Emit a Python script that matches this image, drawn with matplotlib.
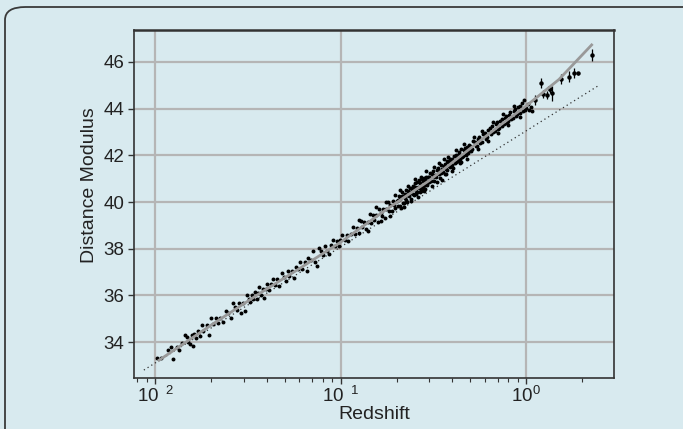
import numpy as np
import matplotlib.pyplot as plt
from matplotlib.patches import FancyBboxPatch

plt.rcParams['font.family'] = ['Liberation Sans', 'DejaVu Sans']
plt.rcParams['mathtext.fontset'] = 'custom'
plt.rcParams['mathtext.rm'] = 'Liberation Sans'

# low redshift supernovae
z_low = [0.0103, 0.0107, 0.0118, 0.0122, 0.0125, 0.0131, 0.0135, 0.0139, 0.0145, 0.0148,
         0.0151, 0.0155, 0.0158, 0.0160, 0.0163, 0.0166, 0.0170, 0.0175, 0.0178, 0.0182,
         0.0190, 0.0195, 0.0200, 0.0205, 0.0212, 0.0218, 0.0225, 0.0232, 0.0240, 0.0248,
         0.0255, 0.0262, 0.0270, 0.0276, 0.0283, 0.0290, 0.0298, 0.0305, 0.0312, 0.0320,
         0.0326, 0.0332, 0.0338, 0.0345, 0.0352, 0.0358, 0.0365, 0.0372, 0.0380, 0.0388,
         0.0395, 0.0402]
mu_low = [33.33, 33.31, 33.67, 33.80, 33.28, 33.80, 33.67, 33.98, 34.32, 34.22,
          33.99, 33.92, 34.31, 33.84, 34.33, 34.17, 34.49, 34.24, 34.72, 34.47,
          34.72, 34.32, 35.03, 34.78, 35.01, 34.82, 35.04, 34.86, 35.33, 35.25,
          35.01, 35.67, 35.49, 35.39, 35.69, 35.25, 35.66, 35.31, 36.01, 35.86,
          35.71, 36.00, 35.84, 36.13, 35.83, 36.09, 36.36, 36.00, 36.29, 35.89,
          36.28, 36.47]

z_mid = [0.0410, 0.0420, 0.0432, 0.0445, 0.0455, 0.0468, 0.0480, 0.0492, 0.0505, 0.0518,
         0.0530, 0.0545, 0.0560, 0.0575, 0.0590, 0.0605, 0.0620, 0.0640, 0.0655, 0.0670,
         0.0690, 0.0710, 0.0728, 0.0745, 0.0765, 0.0785, 0.0800, 0.0820, 0.0840, 0.0865,
         0.0885, 0.0905, 0.0930, 0.0950, 0.0975, 0.0995,
         0.102, 0.105, 0.108, 0.110, 0.113, 0.116, 0.119, 0.122, 0.125, 0.128,
         0.131, 0.134, 0.137, 0.140, 0.143, 0.146, 0.149, 0.152, 0.155, 0.158,
         0.161, 0.164, 0.167, 0.170, 0.173, 0.176, 0.179, 0.182, 0.185, 0.188,
         0.191, 0.194, 0.197, 0.200]
mu_mid = [36.21, 36.47, 36.68, 36.44, 36.69, 36.41, 36.96, 36.77, 36.63, 37.03,
          36.84, 37.05, 36.76, 37.22, 37.12, 37.43, 37.14, 37.41, 37.06, 37.61,
          37.53, 37.89, 37.45, 37.25, 38.01, 37.92, 37.71, 38.12, 37.92, 37.79,
          38.14, 38.39, 38.10, 38.35, 38.11, 38.36,
          38.57, 38.38, 38.60, 38.34, 38.65, 38.91, 38.62, 38.88, 38.69, 39.19,
          38.94, 39.15, 38.85, 39.15, 39.50, 39.10, 39.44, 39.24, 39.44, 39.13,
          39.68, 39.52, 39.41, 39.71, 39.30, 39.69, 39.98, 39.62, 39.86, 39.60,
          40.03, 39.87, 39.76, 40.05]

z_dense = [0.203, 0.204, 0.206, 0.208, 0.209, 0.211, 0.213, 0.214, 0.216, 0.218,
           0.219, 0.221, 0.223, 0.224, 0.226, 0.228, 0.229, 0.231, 0.233, 0.234,
           0.236, 0.238, 0.239, 0.241, 0.243, 0.244, 0.246, 0.248, 0.249, 0.251,
           0.253, 0.254, 0.256, 0.258, 0.259, 0.261, 0.263, 0.264, 0.266, 0.268,
           0.269, 0.271, 0.273, 0.274, 0.276, 0.278, 0.279, 0.281, 0.283, 0.284,
           0.286, 0.288, 0.289, 0.291, 0.293, 0.294, 0.296, 0.298, 0.299, 0.302,
           0.306, 0.309, 0.313, 0.316, 0.319, 0.323, 0.326, 0.329, 0.333, 0.336,
           0.339, 0.343, 0.346, 0.349, 0.353, 0.356, 0.359, 0.363, 0.366, 0.369,
           0.373, 0.376, 0.379, 0.383, 0.386, 0.389, 0.393, 0.396, 0.399, 0.403,
           0.407, 0.412, 0.416, 0.419, 0.423, 0.427, 0.432, 0.436, 0.439, 0.443,
           0.447, 0.452, 0.457, 0.462, 0.467, 0.472, 0.476, 0.479, 0.483, 0.487,
           0.492, 0.497, 0.503, 0.512, 0.518, 0.527, 0.533, 0.542, 0.548, 0.556,
           0.563, 0.576, 0.584, 0.596, 0.604, 0.616, 0.624, 0.636, 0.644, 0.656,
           0.664, 0.676, 0.684, 0.696, 0.704, 0.716, 0.724, 0.736, 0.744, 0.756,
           0.764, 0.776, 0.784, 0.795, 0.805, 0.820, 0.830, 0.845, 0.855, 0.870,
           0.880, 0.895, 0.905, 0.920, 0.930, 0.945, 0.955, 0.970, 0.980, 0.995,
           1.02, 1.04, 1.06, 1.08]
mu_dense = [40.10, 39.85, 40.26, 39.83, 40.11, 39.76, 40.24, 40.44, 39.97, 40.26,
            39.96, 40.33, 40.18, 40.51, 40.08, 40.30, 40.02, 40.48, 40.24, 40.42,
            40.62, 40.37, 40.13, 40.59, 40.56, 40.36, 40.69, 40.31, 40.54, 40.81,
            40.66, 40.46, 40.36, 40.84, 40.41, 40.64, 40.58, 40.93, 40.45, 40.80,
            40.60, 40.46, 40.98, 40.55, 40.71, 40.65, 40.89, 41.04, 40.94, 40.74,
            40.56, 41.06, 40.76, 40.91, 40.72, 41.05, 40.85, 41.07, 40.87, 41.23,
            40.91, 41.21, 41.08, 41.31, 40.89, 41.16, 41.05, 41.37, 41.44, 41.39,
            41.19, 41.01, 41.59, 41.24, 41.40, 41.29, 41.56, 41.21, 41.61, 41.41,
            41.76, 41.38, 41.71, 41.54, 41.86, 41.52, 41.70, 41.57, 41.84, 41.47,
            41.95, 41.68, 41.70, 42.00, 41.87, 41.76, 42.13, 42.07, 41.85, 41.72,
            42.26, 41.93, 41.95, 42.22, 42.30, 42.02, 42.06, 42.36, 42.23, 42.12,
            42.44, 42.42, 42.20, 42.26, 42.63, 42.58, 42.38, 42.42, 42.72, 42.79,
            42.51, 42.59, 42.90, 42.96, 42.71, 42.79, 43.09, 43.18, 42.90, 43.27,
            42.99, 43.05, 43.33, 43.42, 43.12, 43.16, 43.46, 43.54, 43.25, 43.33,
            43.62, 43.70, 43.40, 43.46, 43.74, 43.84, 43.55, 43.62, 43.92, 43.99,
            43.70, 43.76, 44.06, 44.12, 43.83, 44.25, 43.90, 44.38, 43.95, 44.02,
            44.20, 43.95, 44.08, 43.88]

# outlying points at the edge of the band
z_edge = [0.125, 0.14, 0.155, 0.165, 0.175, 0.185, 0.195, 0.21, 0.22, 0.23,
          0.24, 0.25, 0.26, 0.27, 0.28, 0.29, 0.31, 0.32, 0.33, 0.34,
          0.35, 0.36, 0.37, 0.38, 0.40, 0.42, 0.44, 0.46, 0.48, 0.52,
          0.55, 0.58, 0.62, 0.66, 0.70, 0.75, 0.80, 0.86, 0.92]
mu_edge = [39.24, 38.75, 39.79, 39.19, 39.98, 39.41, 40.29, 40.51, 39.80, 40.70,
           40.06, 40.97, 40.23, 41.08, 40.47, 41.31, 40.68, 41.51, 40.87, 41.65,
           40.94, 41.83, 41.19, 41.91, 41.34, 42.22, 41.65, 42.47, 41.83, 42.79,
           42.26, 43.06, 42.61, 43.44, 42.94, 43.76, 43.28, 44.12, 43.63]

# high redshift supernovae with error bars
z_high = [1.115, 1.207, 1.23, 1.30, 1.33, 1.35, 1.38, 1.53, 1.69, 1.80, 1.91, 2.25]
mu_high = [44.37, 45.09, 44.63, 44.59, 44.87, 44.83, 44.66, 45.26, 45.37, 45.54, 45.52, 46.30]
err_high = [0.20, 0.21, 0.18, 0.18, 0.12, 0.15, 0.32, 0.21, 0.24, 0.21, 0.07, 0.25]

# best-fit model and empty (coasting) universe
model_z = [0.0105, 0.02, 0.0367, 0.06, 0.1, 0.18, 0.3, 0.5, 0.72, 1.0, 1.5, 2.25]
model_mu = [33.22, 34.72, 36.09, 37.15, 38.28, 39.73, 40.92, 42.30, 43.28, 44.12, 45.25, 46.73]
empty_z = [0.0087, 2.43]
empty_mu = [32.8, 44.97]

bg = '#d8eaef'
fig = plt.figure(figsize=(6.83, 4.29), dpi=100, facecolor=bg)
ax = fig.add_axes([0.1962, 0.1189, 0.7028, 0.8112])
ax.set_facecolor(bg)

# outer rounded frame, cut by the right and bottom edges
frame = FancyBboxPatch((5 / 683, -0.2), 1.2, 0.2 + 422 / 429,
                       boxstyle='round,pad=0,rounding_size=0.03',
                       transform=fig.transFigure, facecolor='none',
                       edgecolor='#3a3a3a', linewidth=1.3, zorder=-10)
fig.patches.append(frame)

ax.plot(empty_z, empty_mu, color='#333333', linestyle=(0, (1, 2.5)), linewidth=0.9, zorder=2)
ax.scatter(z_low + z_mid + z_dense + z_edge, mu_low + mu_mid + mu_dense + mu_edge,
           s=8, marker='o', color='black', linewidths=0, zorder=3)
ax.errorbar(z_high, mu_high, yerr=err_high, fmt='o', markersize=2.2, color='black',
            elinewidth=0.9, capsize=0, zorder=3)
ax.plot(model_z, model_mu, color='#999999', linewidth=2.0, zorder=4)

ax.set_xscale('log')
ax.set_xlim(0.0077, 2.97)
ax.set_ylim(32.46, 47.37)
ax.set_xticks([0.01, 0.1, 1])
ax.set_xticklabels([r'$\mathregular{10^{\;\;2}}$', r'$\mathregular{10^{\;\;1}}$',
                    r'$\mathregular{10^{0}}$'])
ax.set_yticks([34, 36, 38, 40, 42, 44, 46])
ax.tick_params(axis='both', which='major', labelsize=13.5, length=4, width=1,
               color='#333333', labelcolor='#222222')
ax.tick_params(axis='x', which='minor', length=3, width=0.8, color='#333333')
ax.tick_params(axis='x', which='major', pad=2)
ax.tick_params(axis='y', which='major', pad=3)
ax.grid(True, which='major', color='#b5b5b5', linewidth=1.6, zorder=0)
ax.set_axisbelow(True)
for sp in ax.spines.values():
    sp.set_color('#333333')
    sp.set_linewidth(1.2)
ax.spines['top'].set_linewidth(1.8)

ax.set_xlabel('Redshift', fontsize=14, color='#222222', labelpad=0)
ax.set_ylabel('Distance Modulus', fontsize=14, color='#222222')
ax.yaxis.set_label_coords(-0.075, 0.553)

fig.savefig('out.png', dpi=100, facecolor=bg)
